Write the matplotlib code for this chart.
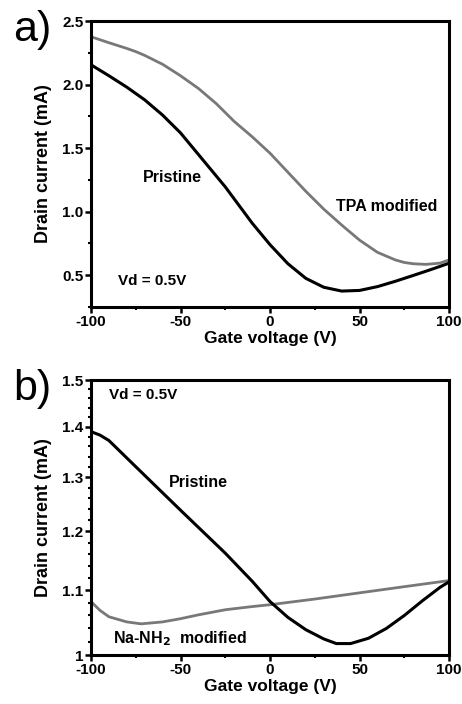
import matplotlib.pyplot as plt
from matplotlib.ticker import FixedLocator, MultipleLocator, NullFormatter
import numpy as np

plt.rcParams['font.family'] = ['Liberation Sans', 'DejaVu Sans']
plt.rcParams['font.weight'] = 'bold'
plt.rcParams['axes.unicode_minus'] = False

# panel a) data
va = [-100, -90, -80, -75, -70, -60, -50, -40, -30, -25, -20, -10, 0, 10, 20, 30, 40, 50, 60, 70, 80, 90, 100]
pristine_a = [2.156, 2.07, 1.98, 1.93, 1.88, 1.76, 1.62, 1.45, 1.28, 1.195, 1.10, 0.91, 0.74, 0.59,
              0.475, 0.405, 0.375, 0.38, 0.41, 0.452, 0.498, 0.545, 0.594]
vt = [-100, -90, -80, -75, -70, -60, -50, -40, -30, -25, -20, -10, 0, 10, 20, 25, 30, 40, 50, 60, 70, 75, 80, 87, 95, 100]
tpa_a = [2.377, 2.33, 2.285, 2.26, 2.23, 2.16, 2.07, 1.97, 1.85, 1.78, 1.71, 1.59, 1.46, 1.31, 1.16,
         1.09, 1.02, 0.895, 0.776, 0.68, 0.62, 0.60, 0.59, 0.585, 0.595, 0.62]

# panel b) data
vb = [-100, -95, -90, -75, -50, -25, -10, 0, 10, 20, 30, 37, 45, 55, 65, 75, 85, 95, 100]
pristine_b = [1.390, 1.383, 1.372, 1.320, 1.238, 1.162, 1.115, 1.082, 1.057, 1.038, 1.024, 1.017, 1.017,
              1.025, 1.040, 1.060, 1.083, 1.105, 1.114]
vn = [-100, -95, -90, -80, -72, -60, -50, -40, -25, -10, 0, 25, 50, 75, 100]
nanh2_b = [1.082, 1.068, 1.058, 1.050, 1.047, 1.050, 1.055, 1.061, 1.069, 1.074, 1.077, 1.086, 1.096, 1.106, 1.116]

gray = '#787878'
fig = plt.figure(figsize=(4.62, 7.04), dpi=100)

def style(ax):
    for s in ax.spines.values():
        s.set_linewidth(2.2)
    ax.tick_params(which='major', length=4, width=1.8, labelsize=11, pad=1.5)
    ax.tick_params(which='minor', length=2.5, width=1.5)
    ax.set_xlim(-100, 100)
    ax.xaxis.set_major_locator(MultipleLocator(50))
    ax.xaxis.set_minor_locator(MultipleLocator(25))
    ax.set_xlabel('Gate voltage (V)', fontsize=12.5, fontweight='bold', labelpad=1.5)
    ax.set_ylabel('Drain current (mA)', fontsize=13, fontweight='bold', labelpad=7)

# a)
ax1 = fig.add_axes([0.197, 0.564, 0.775, 0.406])
ax1.plot(vt, tpa_a, color=gray, lw=2)
ax1.plot(va, pristine_a, color='black', lw=2.2)
ax1.set_ylim(0.25, 2.5)
ax1.yaxis.set_major_locator(FixedLocator([0.5, 1.0, 1.5, 2.0, 2.5]))
ax1.yaxis.set_minor_locator(MultipleLocator(0.25))
style(ax1)
ax1.text(-54.7, 1.27, 'Pristine', fontsize=11.5, ha='center', va='center')
ax1.text(65.4, 1.04, 'TPA modified', fontsize=11.5, ha='center', va='center')
ax1.text(-66, 0.453, 'Vd = 0.5V', fontsize=11, ha='center', va='center')
fig.text(0.028, 0.957, 'a)', fontsize=31, fontweight='normal', va='center')

# b)
ax2 = fig.add_axes([0.197, 0.0696, 0.775, 0.3906])
ax2.plot(vn, nanh2_b, color=gray, lw=2)
ax2.plot(vb, pristine_b, color='black', lw=2.2)
ax2.set_yscale('log')
ax2.set_ylim(1.0, 1.5)
ax2.yaxis.set_major_locator(FixedLocator([1.0, 1.1, 1.2, 1.3, 1.4, 1.5]))
ax2.yaxis.set_minor_locator(FixedLocator(np.arange(1.0, 1.5, 0.02)))
ax2.yaxis.set_minor_formatter(NullFormatter())
ax2.set_yticklabels(['1', '1.1', '1.2', '1.3', '1.4', '1.5'])
style(ax2)
ax2.text(-71, 1.467, 'Vd = 0.5V', fontsize=11, ha='center', va='center')
ax2.text(-40, 1.289, 'Pristine', fontsize=11.5, ha='center', va='center')
ax2.text(-50.3, 1.025, 'Na-NH$_\\mathbf{2}$  modified', fontsize=11.5, ha='center', va='center')
fig.text(0.028, 0.447, 'b)', fontsize=31, fontweight='normal', va='center')

fig.savefig('out.png', dpi=100)
